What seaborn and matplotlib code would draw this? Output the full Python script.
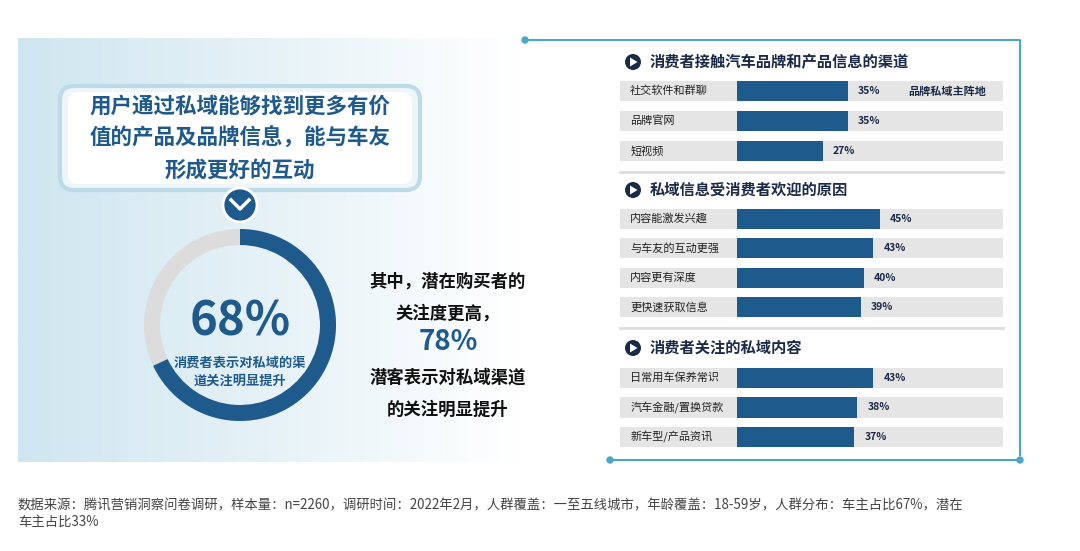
import matplotlib
matplotlib.use("Agg")
import matplotlib.pyplot as plt
import seaborn as sns
import numpy as np
import pandas as pd
from matplotlib.patches import FancyBboxPatch, Circle, Wedge, Polygon
from matplotlib.colors import LinearSegmentedColormap

plt.rcParams["font.family"] = "Noto Sans CJK SC"

# ---- data ----
sec_titles = ["消费者接触汽车品牌和产品信息的渠道", "私域信息受消费者欢迎的原因", "消费者关注的私域内容"]
sec1_labels = ["社交软件和群聊", "品牌官网", "短视频"]
sec1_values = [35, 35, 27]
sec2_labels = ["内容能激发兴趣", "与车友的互动更强", "内容更有深度", "更快速获取信息"]
sec2_values = [45, 43, 40, 39]
sec3_labels = ["日常用车保养常识", "汽车金融/置换贷款", "新车型/产品资讯"]
sec3_values = [43, 38, 37]
main_pct = 68
sub_pct = 78

BLUE = "#1f5a8c"
NAVY = "#1b2a48"
GRAY = "#e5e5e5"
W, H = 1080, 551
fig = plt.figure(figsize=(10.8, 5.51), dpi=100)
bg = fig.add_axes([0, 0, 1, 1])
bg.set_xlim(0, W); bg.set_ylim(H, 0); bg.axis("off")

grad = np.linspace(0, 1, 256)[None, :]
cm = LinearSegmentedColormap.from_list("g", ["#cfe6f0", "#e6f2f7", "#ffffff"])
bg.imshow(grad, extent=[18, 520, 462, 38], cmap=cm, aspect="auto", zorder=0)

bg.add_patch(FancyBboxPatch((60, 86), 360, 104, boxstyle="round,pad=0,rounding_size=14",
                            fc="#eef6fa", ec="#bcdbe8", lw=3, zorder=1))
bg.add_patch(FancyBboxPatch((68, 92), 344, 92, boxstyle="round,pad=0,rounding_size=10",
                            fc="white", ec="none", zorder=1))
for t, y in zip(["用户通过私域能够找到更多有价", "值的产品及品牌信息，能与车友", "形成更好的互动"], [106, 138, 170]):
    bg.text(240, y, t, ha="center", va="center", fontsize=15.5, fontweight="bold", color=BLUE, zorder=2)
bg.add_patch(Circle((240, 205), 17, fc=BLUE, ec="white", lw=2, zorder=3))
bg.plot([231, 240, 249], [200, 209, 200], color="white", lw=2.5, zorder=4)

bg.add_patch(Wedge((240, 325), 96, 0, 360, width=16, fc="#dcdcdc", ec="none", zorder=2))
bg.add_patch(Wedge((240, 325), 96, 270, 270 + 360 * main_pct / 100, width=16, fc=BLUE, ec="none", zorder=3))
bg.text(240, 322, f"{main_pct}%", ha="center", va="center", fontsize=34, fontweight="bold", color=BLUE, zorder=4)
bg.text(240, 363, "消费者表示对私域的渠", ha="center", va="center", fontsize=9.5, fontweight="bold", color=BLUE)
bg.text(240, 381, "道关注明显提升", ha="center", va="center", fontsize=9.5, fontweight="bold", color=BLUE)

for t, y, fs, c in [("其中，潜在购买者的", 282, 12.5, "#111"), ("关注度更高，", 314, 12.5, "#111"),
                    (f"{sub_pct}%", 342, 20, BLUE), ("潜客表示对私域渠道", 378, 12.5, "#111"),
                    ("的关注明显提升", 410, 12.5, "#111")]:
    bg.text(448, y, t, ha="center", va="center", fontsize=fs, fontweight="bold", color=c)

bg.plot([525, 1020, 1020], [40, 40, 455], color="#4aa7c8", lw=1.5)
bg.plot([610, 1020], [460, 460], color="#4aa7c8", lw=1.5)
for x, y in [(525, 40), (610, 460), (1020, 460)]:
    bg.add_patch(Circle((x, y), 3, color="#4aa7c8"))
bg.plot([620, 1003], [172, 172], color="#dddddd", lw=2)
bg.plot([620, 1003], [328, 328], color="#dddddd", lw=2)

for t, y in zip(sec_titles, [62, 190, 348]):
    bg.add_patch(Circle((633, y), 8, fc=NAVY, zorder=3))
    bg.add_patch(Polygon([[630, y - 4.5], [630, y + 4.5], [637.5, y]], fc="white", zorder=4))
    bg.text(650, y, t, ha="left", va="center", fontsize=11, fontweight="bold", color=NAVY)

bg.text(18, 505, "数据来源：腾讯营销洞察问卷调研，样本量：n=2260，调研时间：2022年2月，人群覆盖：一至五线城市，年龄覆盖：18-59岁，人群分布：车主占比67%，潜在",
        fontsize=9.6, color="#444", va="center")
bg.text(18, 522, "车主占比33%", fontsize=9.6, color="#444", va="center")

XMIN, XMAX = -(737 - 620) / 3.17, (1003 - 737) / 3.17
sections = [(sec1_labels, sec1_values, 76, 166), (sec2_labels, sec2_values, 204, 322), (sec3_labels, sec3_values, 363, 452)]
for i, (labs, vals, top, bot) in enumerate(sections):
    ax = fig.add_axes([620 / W, 1 - bot / H, (1003 - 620) / W, (bot - top) / H])
    n = len(labs)
    ax.barh(np.arange(n), XMAX - XMIN, left=XMIN, height=0.68, color=GRAY, zorder=0)
    df = pd.DataFrame({"label": labs, "value": vals})
    sns.barplot(data=df, x="value", y="label", orient="h", color=BLUE, saturation=1, width=0.68, ax=ax, zorder=2)
    ax.set_xlim(XMIN, XMAX); ax.set_ylim(n - 0.5, -0.5)
    ax.axis("off")
    for j, (l, v) in enumerate(zip(labs, vals)):
        ax.text(XMIN + 3.2, j, l, ha="left", va="center", fontsize=8, color="#222")
        ax.text(v + 3.2, j, f"{v}%", ha="left", va="center", fontsize=7.5, fontweight="bold", color=NAVY)
    if i == 0:
        ax.text((908 - 737) / 3.17, 0, "品牌私域主阵地", ha="left", va="center", fontsize=8, fontweight="bold", color=NAVY)

fig.savefig("out.png", dpi=100)
